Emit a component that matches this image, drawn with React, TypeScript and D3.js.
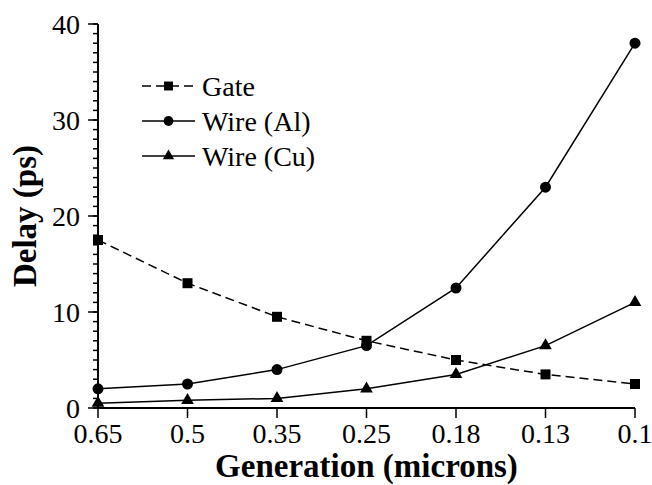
import * as d3 from "d3"

const generations = ["0.65", "0.5", "0.35", "0.25", "0.18", "0.13", "0.1"]
const gateDelay = [17.5, 13, 9.5, 7, 5, 3.5, 2.5]
const wireAlDelay = [2, 2.5, 4, 6.5, 12.5, 23, 38]
const wireCuDelay = [0.5, 0.8, 1.0, 2.0, 3.5, 6.5, 11]
const yTicks = [0, 10, 20, 30, 40]

const series = [
  { name: "Gate", values: gateDelay, dash: "9,5", symbol: d3.symbolSquare, size: 100 },
  { name: "Wire (Al)", values: wireAlDelay, dash: undefined, symbol: d3.symbolCircle, size: 95 },
  { name: "Wire (Cu)", values: wireCuDelay, dash: undefined, symbol: d3.symbolTriangle, size: 70 },
]

const font = "Liberation Serif"

const width = 652
const height = 485
const left = 98
const right = 635
const top = 24
const bottom = 408

const App = () => {
  const x = d3.scalePoint<string>().domain(generations).range([left, right])
  const y = d3.scaleLinear().domain([0, 40]).range([bottom, top])

  const line = d3
    .line<number>()
    .x((_, i) => x(generations[i]) as number)
    .y((d) => y(d))

  // one minor tick per unit
  const minorTicks = y.ticks(40)

  return (
    <div style={{ position: "absolute", left: 0, top: 0 }}>
      <svg width={width} height={height} style={{ display: "block", background: "#fff" }}>
        <g stroke="#000" strokeWidth={1.5}>
          {minorTicks.map((t) => (
            <line key={"m" + t} x1={left - 5} x2={left} y1={y(t)} y2={y(t)} />
          ))}
          {yTicks.map((t) => (
            <line key={"y" + t} x1={left - 10} x2={left} y1={y(t)} y2={y(t)} />
          ))}
          {generations.map((g) => (
            <line key={"x" + g} x1={x(g)} x2={x(g)} y1={bottom} y2={bottom + 10} />
          ))}
          <line x1={left} x2={left} y1={top} y2={bottom} strokeWidth={2} />
          <line x1={left} x2={right} y1={bottom} y2={bottom} strokeWidth={2} />
        </g>

        <g style={{ fontFamily: font, fontSize: "28px" }} fill="#000">
          {yTicks.map((t) => (
            <text key={t} x={left - 18} y={y(t)} dy="0.34em" textAnchor="end">
              {t}
            </text>
          ))}
          {generations.map((g) => (
            <text key={g} x={x(g)} y={443} textAnchor="middle">
              {g}
            </text>
          ))}
        </g>

        <text
          x={(left + right) / 2}
          y={477}
          textAnchor="middle"
          style={{ fontFamily: font, fontSize: "33px", fontWeight: "bold" }}
        >
          Generation (microns)
        </text>
        <text
          transform={`translate(36,${(top + bottom) / 2}) rotate(-90)`}
          textAnchor="middle"
          style={{ fontFamily: font, fontSize: "33px", fontWeight: "bold" }}
        >
          Delay (ps)
        </text>

        {series.map((s) => (
          <g key={s.name}>
            <path
              d={line(s.values) ?? ""}
              fill="none"
              stroke="#000"
              strokeWidth={1.5}
              strokeDasharray={s.dash}
            />
            {s.values.map((v, i) => (
              <path
                key={i}
                d={d3.symbol().type(s.symbol).size(s.size)() ?? ""}
                transform={`translate(${x(generations[i])},${y(v)})`}
                fill="#000"
              />
            ))}
          </g>
        ))}

        <g transform="translate(142,86)">
          {series.map((s, i) => (
            <g key={s.name} transform={`translate(0,${i * 35})`}>
              <line x1={0} x2={53} stroke="#000" strokeWidth={1.5} strokeDasharray={s.dash} />
              <path
                d={d3.symbol().type(s.symbol).size(s.size * 0.8)() ?? ""}
                transform="translate(26.5,0)"
                fill="#000"
              />
              <text x={60} y={9.5} style={{ fontFamily: font, fontSize: "28px" }}>
                {s.name}
              </text>
            </g>
          ))}
        </g>
      </svg>
    </div>
  )
}

export default App
